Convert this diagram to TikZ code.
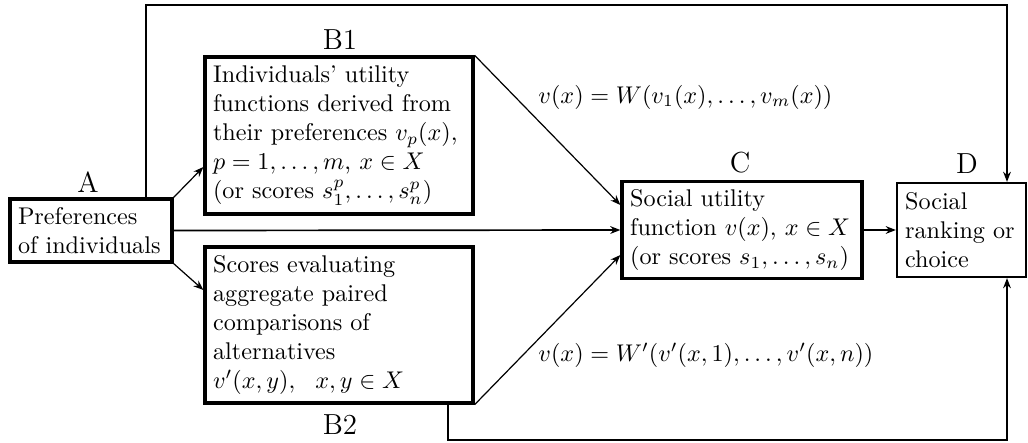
\documentclass[tikz,border=0pt]{standalone}
\usetikzlibrary{arrows.meta}
\newcommand{\Lm}[1]{\mbox{#1}}
\begin{document}
\begin{tikzpicture}[x=0.4138pt,y=-0.4138pt,
  box/.style={draw, line width=1.35pt, inner sep=3.33pt, align=left, anchor=center},
  lab/.style={font=\large, inner sep=0pt},
  eq/.style={anchor=west, inner sep=0pt},
  tip/.style={-{Stealth[length=4.2pt,width=3.2pt]}},
  thin conn/.style={tip, line width=0.5pt},
  mid conn/.style={tip, line width=0.7pt},
  route/.style={tip, line width=0.9pt},
]
\useasboundingbox (0,0) rectangle (1028,442);

% boxes
\node[box, minimum width=67.04pt, minimum height=26.07pt, text width=60.4pt] (A) at (91,230.5)
  {\Lm{Preferences}\\\Lm{of individuals}};
\node[box, minimum width=110.9pt, minimum height=65pt, text width=104.2pt] (B1) at (339,135.5)
  {\Lm{Individuals' utility}\\
   \Lm{functions derived from}\\
   \Lm{their preferences $v_p(x)$,}\\
   \Lm{$p=1,\ldots,m$, $x\in X$}\\
   \Lm{(or scores $s^p_1,\ldots,s^p_n$)}};
\node[box, minimum width=110.9pt, minimum height=64.55pt, text width=104.2pt] (B2) at (339,325)
  {\Lm{Scores evaluating}\\
   \Lm{aggregate paired}\\
   \Lm{comparisons of}\\
   \Lm{alternatives}\\
   \Lm{$v'(x,y),\ \ x,y\in X$}};
\node[box, minimum width=99.3pt, minimum height=39.7pt, text width=92.6pt] (C) at (742,230)
  {\Lm{Social utility}\\
   \Lm{function $v(x)$, $x\in X$}\\
   \Lm{(or scores $s_1,\ldots,s_n$)}};
\node[box, line width=0.9pt, minimum width=53.4pt, minimum height=38.9pt, text width=46.7pt] (D) at (961.5,230)
  {\Lm{Social}\\\Lm{ranking or}\\\Lm{choice}};

% labels
\node[lab] (lA) at (88,182) {A};
\node[lab] (lB1) at (340,40) {B1};
\node[lab] (lB2) at (340,425) {B2};
\node[lab] (lC) at (740,163) {C};
\node[lab] (lD) at (967,164) {D};

\node[eq] (e1) at (538,97) {$v(x)=W(v_1(x),\ldots,v_m(x))$};
\node[eq] (e2) at (538,355) {$v(x)=W'(v'(x,1),\ldots,v'(x,n))$};

% helper coordinates
\coordinate (t1) at (146,5);
\coordinate (t2) at (1007,5);
\coordinate (b1) at (448,440);
\coordinate (b2) at (1007,440);
\coordinate (yB1) at (0,167);
\coordinate (yB2) at (0,290);
\coordinate (yC1) at (0,205);
\coordinate (yC2) at (0,255);

% connectors
\draw[route] (A.north -| t1) -- (t1) -- (t2) -- (t2 |- D.north);
\draw[route] (B2.south -| b1) -- (b1) -- (b2) -- (b2 |- D.south);
\draw[thin conn] (A.north east) -- (B1.west |- yB1);
\draw[thin conn] (A.south east) -- (B2.west |- yB2);
\draw[mid conn] (A.east) -- (C.west);
\draw[thin conn] (B1.north east) -- (C.west |- yC1);
\draw[thin conn] (B2.south east) -- (C.west |- yC2);
\draw[mid conn] (C.east) -- (D.west);
\end{tikzpicture}
\end{document}
